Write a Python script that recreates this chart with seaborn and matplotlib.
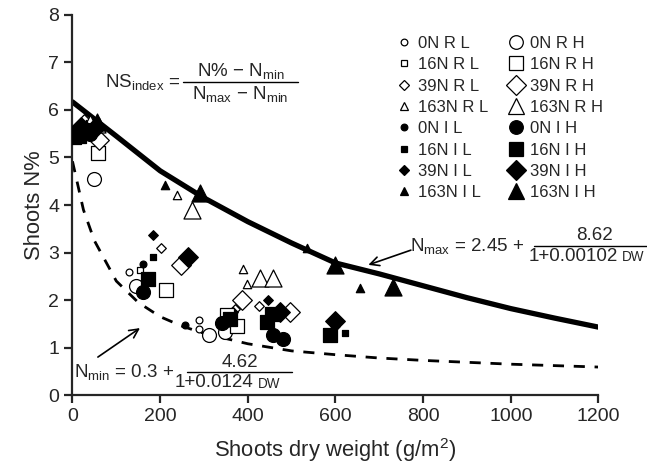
import matplotlib
matplotlib.use("Agg")
import matplotlib.pyplot as plt
from matplotlib.lines import Line2D
import seaborn as sns
import pandas as pd

# --- data ---
groups = ["0N R L", "16N R L", "39N R L", "163N R L",
          "0N I L", "16N I L", "39N I L", "163N I L",
          "0N R H", "16N R H", "39N R H", "163N R H",
          "0N I H", "16N I H", "39N I H", "163N I H"]

pt_group = [
    # early samples (DW < 70)
    "0N R L", "0N R H", "0N R H", "0N R H", "16N R L", "16N R H", "16N R H",
    "39N R L", "39N R L", "39N R H", "39N R H", "163N R L", "163N R H",
    "0N I L", "0N I H", "0N I H", "16N I L", "16N I H", "39N I L", "39N I H",
    "39N I H", "163N I L", "163N I L", "163N I H",
    # DW 130 - 300
    "163N I L", "163N R L", "163N I H", "163N R H", "39N I L", "39N R L",
    "16N I L", "0N I L", "39N I H", "39N R H", "16N I H", "16N R H",
    "0N I H", "0N R L", "16N R L", "0N R H",
    # DW 250 - 500
    "0N I L", "0N R L", "0N R L", "0N R H", "0N R H", "0N I H", "16N R H",
    "16N R H", "16N I H", "39N R L", "39N I L", "39N R H", "163N R L",
    "163N R L", "163N R H", "163N R H", "39N I L", "39N R L", "39N R H",
    "39N I H", "16N I H", "16N I H", "0N I H", "0N I H", "16N I L",
    # DW 580 - 750
    "39N I H", "16N I H", "16N I L", "39N I L",
    "163N I L", "163N I L", "163N I H", "163N I H",
]
pt_dw = [
    30, 12, 50, 38, 20, 4, 59,
    27, 45, 61, 15, 40, 55,
    20, 12, 40, 10, 15, 25, 19,
    50, 30, 60, 57,
    211, 239, 291, 273, 183, 203,
    183, 162, 264, 247, 173, 213,
    160, 130, 154, 146,
    257, 289, 289, 312, 348, 340, 353,
    375, 359, 371, 366, 386, 390,
    399, 428, 457, 445, 426, 496,
    473, 443, 455, 458, 480, 462,
    599, 587, 622, 599,
    534, 656, 599, 732,
]
pt_n = [
    5.50, 5.55, 4.54, 5.54, 5.60, 5.44, 5.09,
    5.80, 5.70, 5.37, 5.60, 5.80, 5.70,
    5.50, 5.54, 5.50, 5.60, 5.45, 5.62, 5.65,
    5.60, 5.70, 5.75, 5.75,
    4.42, 4.21, 4.25, 3.89, 3.37, 3.09,
    2.90, 2.76, 2.91, 2.74, 2.45, 2.22,
    2.17, 2.60, 2.63, 2.30,
    1.47, 1.58, 1.40, 1.26, 1.33, 1.52, 1.68,
    1.45, 1.61, 1.82, 1.75, 2.00, 2.65,
    2.33, 2.46, 2.46, 2.01, 1.87, 1.75,
    1.75, 1.54, 1.70, 1.26, 1.19, 1.65,
    1.56, 1.26, 1.30, 1.45,
    3.09, 2.25, 2.74, 2.28,
]

# critical curves
max_dw = [0, 100, 200, 300, 400, 500, 600, 700, 800, 900, 1000, 1100, 1200]
max_n = [6.17, 5.45, 4.72, 4.15, 3.65, 3.20, 2.78, 2.55, 2.30, 2.05, 1.82, 1.62, 1.43]
min_dw = [0, 25, 50, 100, 150, 200, 250, 300, 400, 500, 600, 700, 800, 1000, 1200]
min_n = [4.92, 3.90, 3.25, 2.40, 1.95, 1.65, 1.45, 1.30, 1.08, 0.93, 0.85, 0.78, 0.73, 0.65, 0.59]

df = pd.DataFrame({"group": pt_group, "dw": pt_dw, "n": pt_n})

marker_of = {"0N": "o", "16N": "s", "39N": "D", "163N": "^"}
size_of = {"L": 24, "H": 100}
ms_of = {"L": 4.8, "H": 9.8}


def style(g):
    lvl, water, dens = g.split()
    m = marker_of[lvl]
    s = size_of[dens] * (1.5 if m == "^" else 1.0)
    face = "white" if water == "R" else "black"
    return m, s, face


def fraction(ax, prefix, x_pre, x0, x1, y, num, den, fs=13.5, den_x=None, small=None):
    # prefix text, then numerator / bar / denominator (data coords)
    ax.text(x_pre, y, prefix, fontsize=fs, ha="right", va="center", clip_on=False)
    xc = (x0 + x1) / 2
    ax.plot([x0, x1], [y, y], color="black", lw=1.0, clip_on=False)
    ax.text(xc, y + 0.03, num, fontsize=fs, ha="center", va="bottom", clip_on=False)
    if den_x is None:
        ax.text(xc, y - 0.04, den, fontsize=fs, ha="center", va="top", clip_on=False)
    else:
        # denominator with a smaller "DW" after it
        ax.text(den_x[0], y - 0.04, den, fontsize=fs, ha="right", va="top", clip_on=False)
        ax.text(den_x[1], y - 0.09, small, fontsize=fs * 0.72, ha="left", va="top",
                clip_on=False)


sns.set_style("ticks")
plt.rcParams["font.family"] = ["Liberation Sans", "DejaVu Sans"]
plt.rcParams["mathtext.fontset"] = "custom"
plt.rcParams["mathtext.rm"] = "Liberation Sans"
plt.rcParams["mathtext.it"] = "Liberation Sans:italic"

fig, ax = plt.subplots(figsize=(6.47, 4.67), dpi=100)
fig.subplots_adjust(left=0.112, right=0.925, bottom=0.154, top=0.968)

sns.lineplot(x=max_dw, y=max_n, color="black", lw=3.8, ax=ax)
sns.lineplot(x=min_dw, y=min_n, color="black", lw=2.0, ax=ax)
ax.lines[-1].set_linestyle((0, (4, 3.5)))

for g in groups:
    sub = df[df["group"] == g]
    m, s, face = style(g)
    sns.scatterplot(data=sub, x="dw", y="n", marker=m, s=s, color=face,
                    edgecolor="black", linewidth=0.9, ax=ax, zorder=3)

handles = []
for g in groups:
    m, s, face = style(g)
    ms = ms_of[g.split()[2]] * (1.2 if m == "^" else 1.0)
    handles.append(Line2D([], [], ls="", marker=m, markersize=ms,
                          markerfacecolor=face, markeredgecolor="black",
                          markeredgewidth=0.9))
ax.legend(handles, groups, ncol=2, loc="upper left", bbox_to_anchor=(0.615, 0.945),
          frameon=False, fontsize=12, handlelength=1.0, handletextpad=0.3,
          columnspacing=1.2, labelspacing=0.38, borderpad=0, borderaxespad=0)

# equations
fraction(ax, r"NS$_{\mathrm{index}}$ =", 245, 252, 514, 6.59,
         r"N% $-$ N$_{\mathrm{min}}$", r"N$_{\mathrm{max}}$ $-$ N$_{\mathrm{min}}$")
fraction(ax, r"N$_{\mathrm{max}}$ = 2.45 +", 1030, 1053, 1330, 3.14,
         "8.62", "1+0.00102", den_x=(1245, 1254), small="DW")
fraction(ax, r"N$_{\mathrm{min}}$ = 0.3 +", 231, 262, 500, 0.48,
         "4.62", "1+0.0124", den_x=(412, 423), small="DW")

ax.annotate("", xy=(675, 2.74), xytext=(772, 3.05), annotation_clip=False,
            arrowprops=dict(arrowstyle="->", color="black", lw=1.2,
                            mutation_scale=16, shrinkA=0, shrinkB=0))
ax.annotate("", xy=(154, 1.41), xytext=(58, 0.80),
            arrowprops=dict(arrowstyle="->", color="black", lw=1.2,
                            mutation_scale=16, shrinkA=0, shrinkB=0))

ax.set_xlim(0, 1200)
ax.set_ylim(0, 8)
ax.set_xticks(range(0, 1201, 200))
ax.set_yticks(range(0, 9))
ax.set_xlabel("Shoots dry weight (g/m$^2$)", fontsize=15.8, labelpad=8)
ax.set_ylabel("Shoots N%", fontsize=15.8, labelpad=2)
ax.tick_params(labelsize=14, width=1.6, length=6, direction="out")
for sp in ["left", "bottom"]:
    ax.spines[sp].set_linewidth(1.6)
sns.despine(ax=ax)

fig.savefig("out.png", dpi=100)
